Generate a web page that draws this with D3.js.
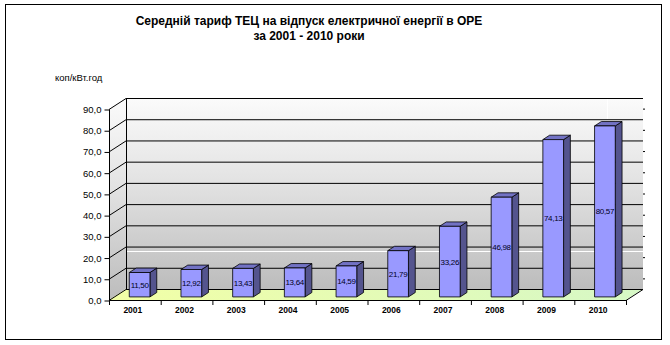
<!DOCTYPE html>
<html><head><meta charset="utf-8">
<script src="https://cdn.jsdelivr.net/npm/d3@7/dist/d3.min.js"></script>
<style>body{margin:0;background:#fff}svg{display:block}text{font-family:"Liberation Sans",Arial,sans-serif}</style>
</head><body>
<svg id="c" width="670" height="345"></svg>
<script>
const years = ["2001","2002","2003","2004","2005","2006","2007","2008","2009","2010"];
const tariffs = [11.50,12.92,13.43,13.64,14.59,21.79,33.26,46.98,74.13,80.57];
const valueLabels = ["11,50","12,92","13,43","13,64","14,59","21,79","33,26","46,98","74,13","80,57"];
const yTicks = [0,10,20,30,40,50,60,70,80,90];
const titleLines = ["Середній тариф ТЕЦ на відпуск електричної енергії в ОРЕ","за 2001 - 2010 роки"];
const unitLabel = "коп/кВт.год";

const svg = d3.select("#c");
const DX = 17, DY = -11;          // depth offset of 3D
const x = d3.scaleBand().domain(years).range([109, 626]).padding(0);
const y = d3.scaleLinear().domain([0, 90]).range([300, 109]);
const P = (px, py, t) => [px + DX * t, py + DY * t];
const poly = pts => "M" + pts.map(p => p.join(",")).join("L") + "Z";

const defs = svg.append("defs");
const wg = defs.append("linearGradient").attr("id","wall").attr("x1",0).attr("y1",0).attr("x2",0).attr("y2",1);
wg.append("stop").attr("offset","0%").attr("stop-color","#fbfbfb");
wg.append("stop").attr("offset","45%").attr("stop-color","#e2e2e2");
wg.append("stop").attr("offset","100%").attr("stop-color","#bcbcbc");
const fg = defs.append("linearGradient").attr("id","floor").attr("x1",0).attr("y1",0).attr("x2",1).attr("y2",0);
fg.append("stop").attr("offset","0%").attr("stop-color","#f2ffa6");
fg.append("stop").attr("offset","100%").attr("stop-color","#d6f8c6");

// outer border
svg.append("rect").attr("x",5.5).attr("y",4.5).attr("width",656).attr("height",335)
  .attr("fill","#fff").attr("stroke","#000").attr("stroke-width",1);

// title
svg.selectAll("text.title").data(titleLines).join("text")
  .attr("x", 309).attr("y", (d,i) => 25 + i*15).attr("text-anchor","middle")
  .attr("font-size", 12).attr("font-weight","bold").text(d => d);
svg.append("text").attr("x",55).attr("y",81).attr("font-size",9.5).text(unitLabel);

const x0 = x.range()[0], x1 = x.range()[1];
const ytop = y(90), ybot = y(0);

// back wall
svg.append("path").attr("d", poly([P(x0,ytop,1),P(x1,ytop,1),P(x1,ybot,1),P(x0,ybot,1)]))
  .attr("fill","url(#wall)");
// left side wall
svg.append("path").attr("d", poly([P(x0,ytop,0),P(x0,ytop,1),P(x0,ybot,1),P(x0,ybot,0)]))
  .attr("fill","url(#wall)");
// floor
svg.append("path").attr("d", poly([P(x0,ybot,0),P(x1,ybot,0),P(x1,ybot,1),P(x0,ybot,1)]))
  .attr("fill","url(#floor)");

// white artifact lines
svg.append("line").attr("x1",x0+DX).attr("x2",x1+DX).attr("y1",251.5).attr("y2",251.5).attr("stroke","#fff");
svg.append("line").attr("x1",607.5).attr("x2",607.5).attr("y1",ytop+DY).attr("y2",y(80)+DY).attr("stroke","#fff");

// gridlines
const g = svg.append("g").attr("stroke","#000").attr("stroke-width",1).attr("fill","none");
yTicks.forEach(v => {
  const a = P(x0, y(v), 0), b = P(x0, y(v), 1), c = P(x1, y(v), 1);
  g.append("path").attr("d", `M${a[0]},${a[1]+0.5}L${b[0]},${b[1]+0.5}L${c[0]},${b[1]+0.5}`);
});
// minor marks on right edge
yTicks.slice(0,-1).forEach(v => {
  const m = P(x1, y(v+5), 1);
  g.append("line").attr("x1",m[0]).attr("x2",m[0]+2).attr("y1",m[1]+0.5).attr("y2",m[1]+0.5);
});
// back wall left edge
g.append("line").attr("x1",x0+DX+0.5).attr("x2",x0+DX+0.5).attr("y1",ytop+DY).attr("y2",ybot+DY);
// floor right diagonal
g.append("line").attr("x1",x1).attr("y1",ybot+0.5).attr("x2",x1+DX).attr("y2",ybot+DY+0.5);

// y axis
const yAxis = d3.axisLeft(y).tickValues(yTicks).tickSize(5).tickPadding(3)
  .tickFormat(d => d3.format(".1f")(d).replace(".", ","));
const ya = svg.append("g").attr("transform",`translate(${x0+0.5},0.5)`).call(yAxis);
ya.select(".domain").attr("d", `M-0,${ytop}V${ybot}`).attr("stroke","#000");
ya.selectAll(".tick line").attr("stroke","#000");
ya.selectAll(".tick text").attr("font-size",9.5).attr("font-family","Liberation Sans, Arial, sans-serif").attr("fill","#000");

// x axis
const xa = svg.append("g");
xa.append("line").attr("x1",x0).attr("x2",x1).attr("y1",ybot+0.5).attr("y2",ybot+0.5).attr("stroke","#000");
years.concat([null]).forEach((c,i) => {
  const xx = (c === null ? x1 : x(c)) + 0.5;
  xa.append("line").attr("x1",xx).attr("x2",xx).attr("y1",ybot).attr("y2",ybot+5).attr("stroke","#000");
});
xa.selectAll("text").data(years).join("text")
  .attr("x", d => x(d) + x.bandwidth()/2 - 2).attr("y", 313)
  .attr("text-anchor","middle").attr("font-size",8.5).attr("font-weight","bold").text(d => d);

// bars
const bw = x.bandwidth() * 0.4, t1 = 0.28, t2 = 0.68;
const bars = svg.append("g").attr("stroke","#000").attr("stroke-width",0.8).attr("stroke-linejoin","round");
years.forEach((c,i) => {
  const cx = x(c) + x.bandwidth()/2;
  const L = cx - bw/2, R = cx + bw/2, T = y(tariffs[i]), B = y(0);
  bars.append("path").attr("d", poly([P(R,T,t1),P(R,T,t2),P(R,B,t2),P(R,B,t1)])).attr("fill","#54548e");
  bars.append("path").attr("d", poly([P(L,T,t1),P(L,T,t2),P(R,T,t2),P(R,T,t1)])).attr("fill","#7272c4");
  bars.append("path").attr("d", poly([P(L,T,t1),P(R,T,t1),P(R,B,t1),P(L,B,t1)])).attr("fill","#9999ff");
  const m = P(cx, (T+B)/2, t1);
  svg.append("text").attr("x", m[0]).attr("y", m[1] + 3).attr("text-anchor","middle")
    .attr("font-size", 8).attr("fill","#000020").attr("letter-spacing",-0.3).text(valueLabels[i]);
});
</script>
</body></html>
